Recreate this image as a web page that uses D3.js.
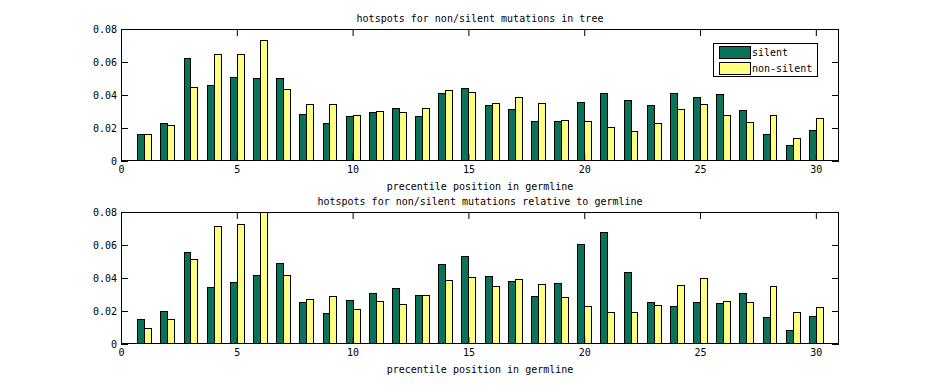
<!DOCTYPE html>
<html>
<head>
<meta charset="utf-8">
<script src="https://cdn.jsdelivr.net/npm/d3@7"></script>
<style>
body { margin: 0; background: #fff; }
text { font-family: "DejaVu Sans Mono", monospace; font-size: 10px; fill: #000; }
</style>
</head>
<body>
<svg id="chart" width="928" height="387"></svg>
<script>
var positions = d3.range(1, 31)

var treeSilent = [0.0162, 0.0228, 0.0622, 0.0459, 0.0507, 0.0501, 0.0501, 0.0283, 0.0228, 0.0271,
  0.0295, 0.0319, 0.0271, 0.0410, 0.0440, 0.0337, 0.0313, 0.0240, 0.0240, 0.0356,
  0.0410, 0.0368, 0.0337, 0.0410, 0.0386, 0.0404, 0.0307, 0.0162, 0.0095, 0.0186]
var treeNonSilent = [0.0162, 0.0216, 0.0446, 0.0648, 0.0648, 0.0733, 0.0434, 0.0343, 0.0343, 0.0277,
  0.0301, 0.0295, 0.0319, 0.0428, 0.0416, 0.0349, 0.0386, 0.0349, 0.0246, 0.0240,
  0.0204, 0.0180, 0.0228, 0.0313, 0.0343, 0.0277, 0.0234, 0.0277, 0.0137, 0.0259]

var relSilent = [0.0150, 0.0199, 0.0558, 0.0345, 0.0376, 0.0418, 0.0491, 0.0254, 0.0187, 0.0266,
  0.0309, 0.0339, 0.0296, 0.0485, 0.0534, 0.0412, 0.0382, 0.0290, 0.0370, 0.0607,
  0.0680, 0.0437, 0.0254, 0.0229, 0.0254, 0.0248, 0.0309, 0.0162, 0.0083, 0.0169]
var relNonSilent = [0.0095, 0.0150, 0.0516, 0.0717, 0.0729, 0.0820, 0.0418, 0.0272, 0.0290, 0.0211,
  0.0260, 0.0242, 0.0296, 0.0388, 0.0406, 0.0351, 0.0394, 0.0363, 0.0284, 0.0229,
  0.0193, 0.0193, 0.0236, 0.0357, 0.0400, 0.0260, 0.0254, 0.0351, 0.0193, 0.0223]

var xTicks = [0, 5, 10, 15, 20, 25, 30]
var yTicks = [0, 0.02, 0.04, 0.06, 0.08]
var seriesNames = ['silent', 'non-silent']
var colors = ['#087358', '#ffff80']

var svg = d3.select('#chart')
var left = 121, right = 839, barW = 0.3

var x = d3.scaleLinear().domain([0, 31]).range([left, right])

function panel(top, bottom, title, silent, nonSilent, legend) {
  var y = d3.scaleLinear().domain([0, 0.08]).range([bottom, top])
  var g = svg.append('g')
  var clipId = 'clip' + top
  g.append('clipPath').attr('id', clipId)
    .append('rect').attr('x', left).attr('y', top).attr('width', right - left).attr('height', bottom - top)

  var bars = g.append('g').attr('clip-path', 'url(#' + clipId + ')')
  var series = [silent, nonSilent]
  series.forEach(function(vals, s) {
    bars.selectAll('.b' + s).data(vals).enter().append('rect')
      .attr('x', function(d, i) { return Math.round(x(positions[i] - barW + s * barW)) + 0.5 })
      .attr('y', function(d) { return Math.round(y(d)) + 0.5 })
      .attr('width', function(d, i) { return Math.round(x(positions[i] + s * barW)) - Math.round(x(positions[i] - barW + s * barW)) })
      .attr('height', function(d) { return bottom - Math.round(y(d)) })
      .attr('fill', colors[s])
      .attr('stroke', '#000')
      .attr('stroke-width', 1)
  })

  var tick = 7
  g.append('g').attr('transform', 'translate(0,' + bottom + ')')
    .call(d3.axisBottom(x).tickValues(xTicks).tickSize(-tick).tickPadding(5).tickFormat(d3.format('d')))
  g.append('g').attr('transform', 'translate(0,' + top + ')')
    .call(d3.axisTop(x).tickValues(xTicks).tickSize(-tick).tickFormat(''))
  g.append('g').attr('transform', 'translate(' + left + ',0)')
    .call(d3.axisLeft(y).tickValues(yTicks).tickSize(-tick).tickPadding(4)
      .tickFormat(function(d) { return d === 0 ? '0' : d3.format('.2f')(d) }))
  g.append('g').attr('transform', 'translate(' + right + ',0)')
    .call(d3.axisRight(y).tickValues(yTicks).tickSize(-tick).tickFormat(''))
  g.selectAll('.domain').remove()
  g.selectAll('.tick line').attr('stroke', '#000')
  g.selectAll('.tick text').attr('font-family', '"DejaVu Sans Mono", monospace').attr('font-size', 10).attr('fill', '#000')

  g.append('rect').attr('x', left + 0.5).attr('y', top + 0.5)
    .attr('width', right - left - 1).attr('height', bottom - top - 1)
    .attr('fill', 'none').attr('stroke', '#000')

  g.append('text').attr('x', (left + right) / 2).attr('y', top - 7)
    .attr('text-anchor', 'middle').text(title)
  g.append('text').attr('x', (left + right) / 2).attr('y', bottom + 29)
    .attr('text-anchor', 'middle').text('precentile position in germline')

  if (legend) {
    var lg = g.append('g').attr('transform', 'translate(713,44)')
    lg.append('rect').attr('x', 0.5).attr('y', -0.5).attr('width', 104).attr('height', 33)
      .attr('fill', '#fff').attr('stroke', '#000')
    seriesNames.forEach(function(name, s) {
      lg.append('rect').attr('x', 6.5).attr('y', 2.5 + s * 16).attr('width', 31).attr('height', 12)
        .attr('fill', colors[s]).attr('stroke', '#000')
      lg.append('text').attr('x', 39).attr('y', 12 + s * 16).text(name)
    })
  }
}

panel(29, 161, 'hotspots for non/silent mutations in tree', treeSilent, treeNonSilent, true)
panel(212, 344, 'hotspots for non/silent mutations relative to germline', relSilent, relNonSilent, false)
</script>
</body>
</html>
